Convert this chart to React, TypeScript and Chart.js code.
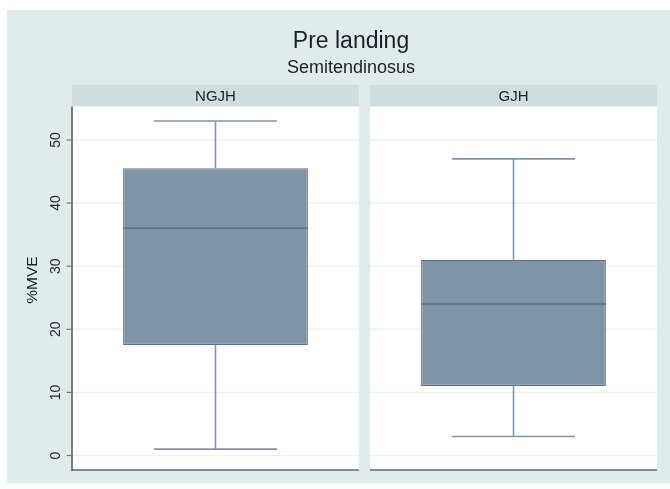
import React, { useEffect, useRef } from "react";
import { Chart, registerables } from "chart.js";

Chart.register(...registerables);

const TITLE = "Pre landing";
const SUBTITLE = "Semitendinosus";
const GROUPS = ["NGJH", "GJH"];
const WHISKER_LOW = [1, 3];
const Q1 = [17.5, 11];
const MEDIAN = [36, 24];
const Q3 = [45.5, 31];
const WHISKER_HIGH = [53, 47];
const Y_TICKS = [0, 10, 20, 30, 40, 50];
const Y_TITLE = "%MVE";

const FONT = '"Liberation Sans", Arial, Helvetica, sans-serif';
const BG = "#E0EBEB";
const STRIP = "#CDDDE0";
const BOX_FILL = "#7E93A3";
const BOX_LINE = "#5C7089";
const WHISKER = "#8194AD";
const GRID = "#EDF2F4";

const stataPanels = {
  id: "stataPanels",
  beforeDraw(chart: any) {
    const { ctx, chartArea: a, scales } = chart;
    const x = scales.x;
    const y = scales.y;
    const step = x.getPixelForValue(1) - x.getPixelForValue(0);
    const half = step * 0.4815;

    ctx.save();
    ctx.fillStyle = "#ffffff";
    ctx.fillRect(0, 0, chart.width, chart.height);
    ctx.fillStyle = BG;
    ctx.fillRect(7, 10, chart.width - 7, 473);

    // titles
    ctx.fillStyle = "#1c1f2a";
    ctx.textAlign = "center";
    ctx.textBaseline = "alphabetic";
    ctx.font = `23px ${FONT}`;
    ctx.fillText(TITLE, 351, 48);
    ctx.font = `18px ${FONT}`;
    ctx.fillText(SUBTITLE, 351, 73);

    GROUPS.forEach((g, i) => {
      const c = x.getPixelForValue(i);
      const l = c - half;
      const r = c + half;
      // strip header
      ctx.fillStyle = STRIP;
      ctx.fillRect(l, a.top - 21.5, r - l, 21.5);
      ctx.fillStyle = "#1c1f2a";
      ctx.font = `15px ${FONT}`;
      ctx.textAlign = "center";
      ctx.fillText(g, c, a.top - 6);
      // plot region
      ctx.fillStyle = "#ffffff";
      ctx.fillRect(l, a.top, r - l, a.bottom - a.top);
      // grid
      ctx.strokeStyle = GRID;
      ctx.lineWidth = 1.5;
      Y_TICKS.forEach((t) => {
        const py = y.getPixelForValue(t);
        ctx.beginPath();
        ctx.moveTo(l, py);
        ctx.lineTo(r, py);
        ctx.stroke();
      });
      // bottom axis
      ctx.strokeStyle = "#8a8a8a";
      ctx.lineWidth = 2;
      ctx.beginPath();
      ctx.moveTo(l, a.bottom);
      ctx.lineTo(r, a.bottom);
      ctx.stroke();
    });

    // left axis
    const ax = x.getPixelForValue(0) - half;
    ctx.strokeStyle = "#555555";
    ctx.lineWidth = 1.5;
    ctx.beginPath();
    ctx.moveTo(ax, a.top);
    ctx.lineTo(ax, a.bottom + 1);
    ctx.stroke();

    ctx.font = `14px ${FONT}`;
    ctx.fillStyle = "#26293a";
    ctx.textAlign = "center";
    ctx.textBaseline = "middle";
    Y_TICKS.forEach((t) => {
      const py = y.getPixelForValue(t);
      ctx.strokeStyle = "#777777";
      ctx.lineWidth = 1.2;
      ctx.beginPath();
      ctx.moveTo(ax - 5.5, py);
      ctx.lineTo(ax, py);
      ctx.stroke();
      ctx.save();
      ctx.translate(ax - 15.5, py);
      ctx.rotate(-Math.PI / 2);
      ctx.fillText(String(t), 0, 0);
      ctx.restore();
    });

    ctx.save();
    ctx.font = `15.5px ${FONT}`;
    ctx.fillStyle = "#1c1f2a";
    ctx.translate(33, 280);
    ctx.rotate(-Math.PI / 2);
    ctx.fillText(Y_TITLE, 0, 0);
    ctx.restore();

    ctx.restore();
  },
  afterDatasetsDraw(chart: any) {
    const { ctx, scales } = chart;
    const x = scales.x;
    const y = scales.y;
    const meta = chart.getDatasetMeta(0);
    ctx.save();
    GROUPS.forEach((_, i) => {
      const bar = meta.data[i];
      const c = x.getPixelForValue(i);
      const bw = bar.width / 2;
      const capHalf = bw * 0.665;
      const yLo = y.getPixelForValue(WHISKER_LOW[i]);
      const yHi = y.getPixelForValue(WHISKER_HIGH[i]);
      const yQ1 = y.getPixelForValue(Q1[i]);
      const yQ3 = y.getPixelForValue(Q3[i]);
      const yMed = y.getPixelForValue(MEDIAN[i]);

      ctx.strokeStyle = WHISKER;
      ctx.lineWidth = 1.6;
      ctx.beginPath();
      ctx.moveTo(c, yQ3);
      ctx.lineTo(c, yHi);
      ctx.moveTo(c, yQ1);
      ctx.lineTo(c, yLo);
      ctx.moveTo(c - capHalf, yHi);
      ctx.lineTo(c + capHalf, yHi);
      ctx.moveTo(c - capHalf, yLo);
      ctx.lineTo(c + capHalf, yLo);
      ctx.stroke();

      ctx.strokeStyle = BOX_LINE;
      ctx.lineWidth = 1.5;
      ctx.beginPath();
      ctx.moveTo(c - bw, yMed);
      ctx.lineTo(c + bw, yMed);
      ctx.stroke();
    });
    ctx.restore();
  },
};

export default function App() {
  const ref = useRef<HTMLCanvasElement | null>(null);

  useEffect(() => {
    if (!ref.current) return;
    const chart = new Chart(ref.current, {
      type: "bar",
      data: {
        labels: GROUPS,
        datasets: [
          {
            data: GROUPS.map((_, i) => [Q1[i], Q3[i]]) as any,
            backgroundColor: BOX_FILL,
            borderColor: BOX_LINE,
            borderWidth: 1.2,
            borderSkipped: false,
            barPercentage: 0.62,
            categoryPercentage: 1,
          },
        ],
      },
      options: {
        animation: false,
        responsive: true,
        maintainAspectRatio: false,
        devicePixelRatio: 1,
        layout: { padding: { left: 66.5, right: 7.5, top: 106.5, bottom: 19 } },
        plugins: {
          legend: { display: false },
          tooltip: { enabled: false },
          title: { display: false },
        },
        scales: {
          x: { type: "category", display: false, offset: true },
          y: { type: "linear", display: false, min: -2.3, max: 55.3 },
        },
      },
      plugins: [stataPanels],
    });
    return () => chart.destroy();
  }, []);

  return (
    <div style={{ position: "absolute", left: 0, top: 0, width: 670, height: 489 }}>
      <canvas ref={ref} />
    </div>
  );
}
